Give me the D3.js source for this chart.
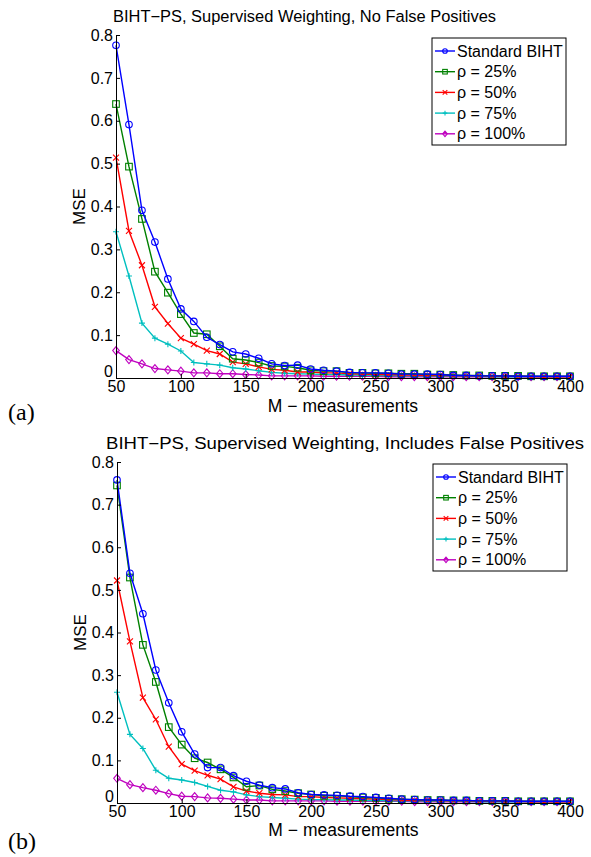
<!DOCTYPE html>
<html><head><meta charset="utf-8">
<script src="https://cdn.jsdelivr.net/npm/d3@7"></script>
<style>body{margin:0;background:#fff}text{font-family:"Liberation Sans",Arial,sans-serif}</style>
</head><body>
<svg id="c" width="591" height="857"></svg>
<script>
const mValues = d3.range(50, 401, 10);
const xTicks = [50,100,150,200,250,300,350,400];
const yTicks = [0,0.1,0.2,0.3,0.4,0.5,0.6,0.7,0.8];
const seriesNames = ["Standard BIHT","\u03c1 = 25%","\u03c1 = 50%","\u03c1 = 75%","\u03c1 = 100%"];
const seriesColors = ["#0000ff","#008000","#ff0000","#00bfbf","#bf00bf"];
const seriesMarkers = ["circle","square","x","plus","diamond"];
const panelTitles = ["BIHT\u2212PS, Supervised Weighting, No False Positives","BIHT\u2212PS, Supervised Weighting, Includes False Positives"];
const panelLabels = ["(a)","(b)"];

const topStandard = [.776,.591,.391,.317,.231,.161,.132,.095,.078,.061,.056,.046,.033,.029,.030,.021,.018,.016,.013,.012,.012,.011,.009,.009,.009,.008,.006,.006,.005,.005,.005,.004,.004,.004,.004,.004];
const top25 = [.639,.493,.371,.248,.199,.149,.105,.102,.074,.045,.042,.036,.028,.027,.024,.018,.016,.016,.012,.012,.011,.011,.010,.010,.008,.008,.007,.006,.006,.005,.005,.005,.004,.004,.004,.004];
const top50 = [.514,.343,.263,.166,.127,.093,.079,.064,.056,.037,.033,.026,.020,.018,.014,.014,.012,.012,.010,.009,.008,.008,.007,.007,.006,.006,.005,.005,.005,.004,.004,.004,.003,.003,.003,.003];
const top75 = [.341,.238,.128,.093,.079,.063,.036,.033,.030,.024,.021,.017,.013,.011,.010,.009,.008,.008,.007,.007,.006,.006,.005,.005,.005,.004,.004,.004,.004,.003,.003,.003,.003,.003,.003,.003];
const top100 = [.064,.043,.033,.022,.019,.016,.012,.012,.010,.010,.008,.007,.005,.005,.005,.005,.004,.004,.004,.004,.004,.003,.003,.003,.003,.003,.003,.003,.003,.003,.003,.003,.003,.003,.003,.003];

const botStandard = [.758,.539,.444,.312,.235,.167,.115,.083,.083,.064,.051,.042,.036,.033,.024,.020,.019,.018,.016,.015,.013,.011,.009,.008,.007,.007,.006,.006,.005,.005,.005,.004,.004,.004,.004,.004];
const bot25 = [.745,.529,.371,.284,.178,.137,.105,.095,.079,.060,.038,.041,.032,.028,.023,.020,.017,.017,.015,.013,.012,.010,.009,.008,.007,.007,.006,.006,.005,.005,.005,.004,.004,.004,.004,.004];
const bot50 = [.522,.379,.247,.196,.132,.091,.076,.065,.056,.038,.028,.023,.020,.019,.015,.015,.013,.012,.011,.010,.009,.008,.007,.006,.006,.005,.005,.005,.004,.004,.004,.004,.003,.003,.003,.003];
const bot75 = [.260,.161,.128,.077,.058,.054,.048,.039,.030,.026,.019,.015,.013,.011,.009,.008,.008,.007,.007,.006,.006,.005,.005,.005,.004,.004,.004,.004,.003,.003,.003,.003,.003,.003,.003,.003];
const bot100 = [.058,.043,.036,.030,.022,.016,.015,.012,.011,.009,.007,.007,.005,.005,.005,.005,.005,.004,.004,.004,.004,.004,.004,.003,.003,.003,.003,.003,.003,.003,.003,.003,.003,.003,.003,.003];

const panelSeries = [[topStandard,top25,top50,top75,top100],[botStandard,bot25,bot50,bot75,bot100]];

const layouts = [
  {x0:116, x1:570, yTop:35, yBot:378, titleX:113, titleW:383, titleY:22, xlabY:412, ylabX:85, legend:{x:432,y:38,w:134,h:107}, labelY:420},
  {x0:117, x1:570, yTop:462, yBot:803, titleX:106, titleW:478, titleY:449, xlabY:836, ylabX:86, legend:{x:433,y:464,w:134,h:107}, labelY:849}
];

const svg = d3.select("#c");

function marker(g, type, x, y, color, s) {
  const sw = 1.1;
  if (type === "circle") g.append("circle").attr("cx",x).attr("cy",y).attr("r",s).attr("fill","none").attr("stroke",color).attr("stroke-width",sw);
  else if (type === "square") g.append("rect").attr("x",x-s).attr("y",y-s).attr("width",2*s).attr("height",2*s).attr("fill","none").attr("stroke",color).attr("stroke-width",sw);
  else if (type === "x") g.append("path").attr("d",`M${x-s},${y-s}L${x+s},${y+s}M${x-s},${y+s}L${x+s},${y-s}`).attr("stroke",color).attr("stroke-width",sw);
  else if (type === "plus") g.append("path").attr("d",`M${x-s},${y}L${x+s},${y}M${x},${y-s}L${x},${y+s}`).attr("stroke",color).attr("stroke-width",sw);
  else if (type === "diamond") g.append("path").attr("d",`M${x},${y-s*1.2}L${x+s},${y}L${x},${y+s*1.2}L${x-s},${y}Z`).attr("fill","none").attr("stroke",color).attr("stroke-width",sw);
}

layouts.forEach((L, pi) => {
  const g = svg.append("g");
  const x = d3.scaleLinear().domain([50,400]).range([L.x0, L.x1]);
  const y = d3.scaleLinear().domain([0,0.8]).range([L.yBot, L.yTop]);

  for (let si = 4; si >= 0; si--) {
    const vals = panelSeries[pi][si];
    const pts = mValues.map((m,i)=>[m, vals[i]]);
    g.append("path").datum(pts)
      .attr("d", d3.line().x(d=>x(d[0])).y(d=>y(d[1])))
      .attr("fill","none").attr("stroke",seriesColors[si]).attr("stroke-width",1.4);
    const mg = g.append("g");
    pts.forEach(d => marker(mg, seriesMarkers[si], x(d[0]), y(d[1]), seriesColors[si], si===2||si===3 ? 3 : 3.3));
  }

  const xa = g.append("g").attr("transform",`translate(0,${L.yBot})`)
    .call(d3.axisBottom(x).tickValues(xTicks).tickSize(-4).tickSizeOuter(0).tickPadding(4).tickFormat(d3.format("d")));
  const ya = g.append("g").attr("transform",`translate(${L.x0},0)`)
    .call(d3.axisLeft(y).tickValues(yTicks).tickSize(-4).tickSizeOuter(0).tickPadding(3).tickFormat(d=> d===0 ? "0" : d3.format(".1f")(d)));
  [xa, ya].forEach(a => {
    a.select(".domain").attr("stroke","#000").attr("stroke-width",1);
    a.selectAll(".tick line").attr("stroke","#000");
    a.selectAll("text").attr("font-size",16).attr("fill","#000").attr("font-family",'"Liberation Sans",Arial,sans-serif');
  });
  xa.selectAll("text").attr("dy","0.75em").attr("y",2);
  ya.selectAll(".tick").filter(d=>d===0).select("text").attr("y",-7);

  g.append("text").attr("x",L.titleX).attr("y",L.titleY)
    .attr("font-size",16).attr("textLength",L.titleW).attr("lengthAdjust","spacingAndGlyphs").text(panelTitles[pi]);
  g.append("text").attr("x",(L.x0+L.x1)/2).attr("y",L.xlabY).attr("text-anchor","middle").attr("font-size",17.5).text("M \u2212 measurements");
  g.append("text").attr("transform",`translate(${L.ylabX},${(L.yTop+L.yBot)/2}) rotate(-90)`).attr("text-anchor","middle").attr("font-size",17).text("MSE");
  g.append("text").attr("x",8).attr("y",L.labelY).attr("font-size",24).style("font-family",'"Liberation Serif","Times New Roman",serif').text(panelLabels[pi]);

  const lg = g.append("g");
  lg.append("rect").attr("x",L.legend.x).attr("y",L.legend.y).attr("width",L.legend.w).attr("height",L.legend.h)
    .attr("fill","#fff").attr("stroke","#000").attr("stroke-width",1);
  seriesNames.forEach((n, si) => {
    const ry = L.legend.y + 13 + si*20.7;
    lg.append("line").attr("x1",L.legend.x+3).attr("x2",L.legend.x+23).attr("y1",ry).attr("y2",ry).attr("stroke",seriesColors[si]).attr("stroke-width",1.4);
    marker(lg, seriesMarkers[si], L.legend.x+13, ry, seriesColors[si], 2.3);
    lg.append("text").attr("x",L.legend.x+25).attr("y",ry).attr("dy","0.35em").attr("font-size",16).text(n);
  });
});
</script>
</body></html>
